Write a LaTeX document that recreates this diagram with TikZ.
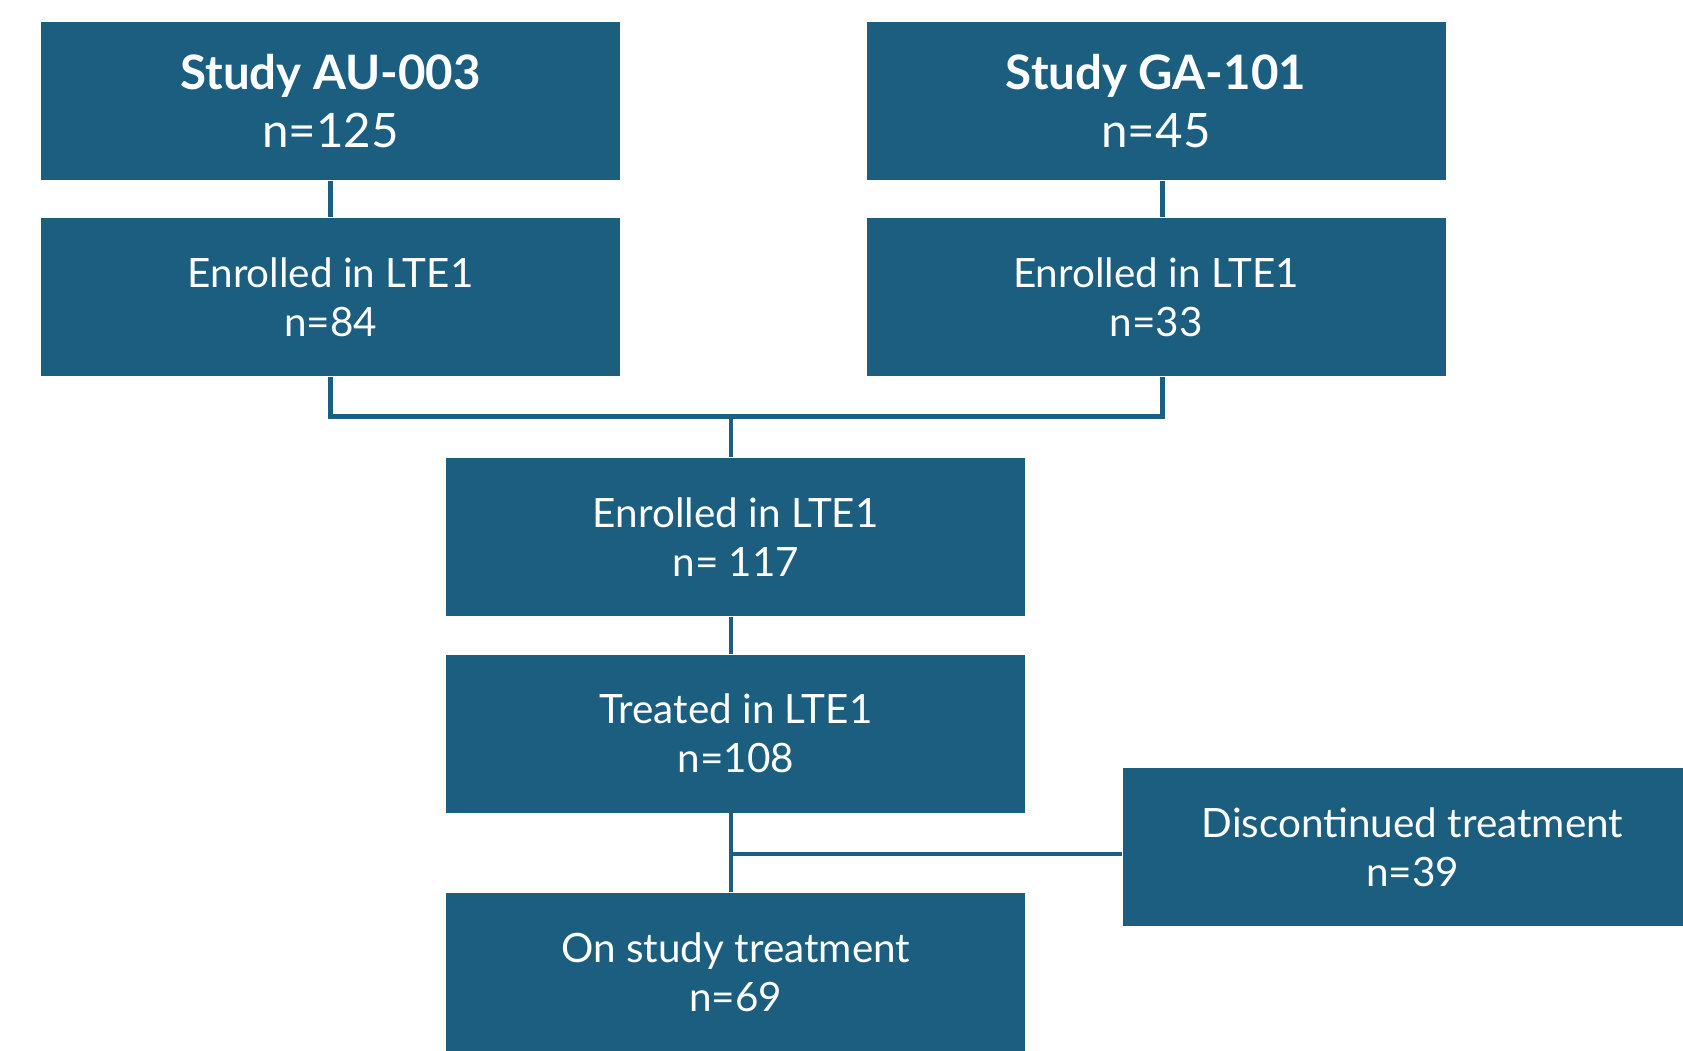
\documentclass[tikz,border=0pt]{standalone}
\usepackage{fontspec}
\setmainfont{Lato}
\definecolor{teal}{RGB}{28,94,128}
\usetikzlibrary{positioning}
\tikzset{
  stage/.style={fill=teal, text=white, inner sep=0pt, align=center,
                minimum width=5.79cm, minimum height=1.58cm,
                font=\fontsize{11.5}{14}\selectfont},
  study/.style={stage, font=\fontsize{13.5}{16.5}\selectfont},
  link/.style={draw=teal, line width=1.2pt},
}
\begin{document}
\begin{tikzpicture}
  \useasboundingbox (0,0) rectangle (16.83,-10.51);

  % the two source studies
  \node[study] (au)  at (3.306,-1.009) {\textbf{Study AU-003}\\n=125};
  \node[study] (ga)  at (11.56,-1.009) {\textbf{Study GA-101}\\n=45};
  \node[stage] (e84) at (3.306,-2.969) {Enrolled in LTE1\\n=84};
  \node[stage] (e33) at (11.56,-2.969) {Enrolled in LTE1\\n=33};

  % pooled column
  \node[stage] (e117)  at (7.358,-5.372) {Enrolled in LTE1\\n= 117};
  \node[stage] (treat) at (7.358,-7.336) {Treated in LTE1\\n=108};
  \node[stage] (onst)  at (7.358,-9.72)  {On study treatment\\n=69};
  \node[stage] (disc)  at (14.125,-8.469) {Discontinued treatment\\n=39};

  \coordinate (join) at (7.31,-4.164);
  \coordinate (fork) at (7.31,-8.543);
  \coordinate (galine) at (11.624,-1.009);

  \draw[link] (au) -- (e84);
  \draw[link] (galine |- ga.south) -- (galine |- e33.north);
  \draw[link] (e84.south) |- (join) -| (galine |- e33.south);
  \draw[link] (join) -- (join |- e117.north);
  \draw[link] (e117.south -| join) -- (join |- treat.north);
  \draw[link] (treat.south -| join) -- (join |- onst.north);
  \draw[link] (fork) -- (fork -| disc.west);
\end{tikzpicture}
\end{document}
